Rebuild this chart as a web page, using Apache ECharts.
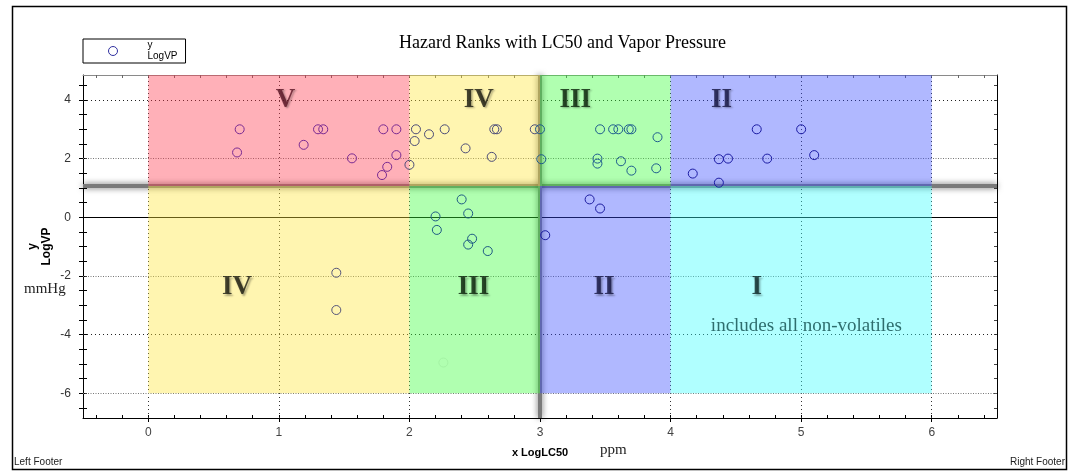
<!DOCTYPE html>
<html><head><meta charset="utf-8">
<script src="https://cdn.jsdelivr.net/npm/echarts@6/dist/echarts.min.js"></script>
<style>html,body{margin:0;padding:0;background:#fff}#c{width:1073px;height:476px}</style>
</head><body><div id="c"></div>
<script>
// ---- data ----
const logLC50 = [0.70,0.68,1.19,1.30,1.34,1.56,1.80,1.90,1.90,1.83,1.79,2.00,2.05,2.04,2.15,2.27,2.43,2.65,2.67,2.63,2.96,3.00,3.01,3.46,3.56,3.60,3.68,3.70,3.90,3.44,3.44,3.62,3.70,3.89,4.66,5.00,4.37,4.44,4.74,5.10,4.17,4.37,2.40,2.20,2.45,2.21,2.48,2.45,2.60,3.04,3.38,3.46,1.44,1.44];
const logVP   = [3.00,2.21,2.47,3.00,3.00,2.01,3.00,3.00,2.12,1.72,1.44,1.79,3.00,2.60,2.83,3.00,2.35,3.00,3.00,2.06,3.00,3.00,1.98,3.00,3.00,3.00,3.00,3.00,2.73,2.00,1.83,1.91,1.59,1.67,3.00,3.00,1.98,2.00,2.00,2.12,1.49,1.18,0.61,0.03,0.13,-0.43,-0.73,-0.93,-1.15,-0.61,0.61,0.30,-1.89,-3.16];
const faintLC50 = [2.26];
const faintVP = [-4.95];

const xTickLabels = [0,1,2,3,4,5,6];
const yTickLabels = [-6,-4,-2,0,2,4];
const xGridValues = [0,1,2,3,4,5,6];
const yGridValues = [-6,-4,-2,2,4];

const rankSplitVP = 1.07;     // horizontal divider
const rankSplitLC50 = 3;      // vertical divider
const bandEdgesLC50 = [0,2,3,4,6];
const bandBottomVP = -6;

const ranksTop = ['V','IV','III','II'];
const ranksTopX = [1.05,2.53,3.27,4.39];
const ranksTopY = 4.0;
const ranksBottom = ['IV','III','II','I'];
const ranksBottomX = [0.68,2.49,3.49,4.66];
const ranksBottomY = -2.39;
const noteText = 'includes all non-volatiles';
const noteX = 5.04, noteY = -3.72;

// ---- layout / style ----
const X_MIN = -0.5, X_MAX = 6.5, Y_MIN = -6.84, Y_MAX = 4.85;
const topColors = ['rgba(255,57,78,0.4)','rgba(255,230,58,0.4)','rgba(58,255,58,0.4)','rgba(58,78,255,0.4)'];
const bottomColors = ['rgba(255,230,58,0.4)','rgba(58,255,58,0.4)','rgba(58,78,255,0.4)','rgba(58,255,255,0.4)'];
const topPointColors = ['#7a2a92','#4c4c78','#1e5c8e','#1c1ca4'];
const bottomPointColors = ['#55557a','#1e5a84','#1c1ca0','#1c5c8c'];
const topLabelColors = ['#5a1424','#1a1a10','#0a200a','#141440'];
const bottomLabelColors = ['#1a1a10','#0a200a','#141440','#0a2626'];
const noteColor = '#0e4a4a';

const xMinor = []; for (let v = -0.4; v < 6.45; v += 0.2) xMinor.push(Math.round(v*10)/10);
const yMinor = []; for (let v = -6.5; v < 4.75; v += 0.5) yMinor.push(v);

function regionIndex(x) {
  for (let i = 0; i < bandEdgesLC50.length-1; i++) if (x >= bandEdgesLC50[i] && x < bandEdgesLC50[i+1]) return i;
  return -1;
}
const points = logLC50.map((x,i)=>{
  const y = logVP[i], r = regionIndex(x);
  const c = r < 0 ? '#1a1a90' : (y >= rankSplitVP ? topPointColors[r] : bottomPointColors[r]);
  return {value:[x, y], itemStyle:{borderColor:c}};
});
const faint = faintLC50.map((x,i)=>[x, faintVP[i]]);

const bands = [];
for (let i = 0; i < bandEdgesLC50.length-1; i++) {
  bands.push([{xAxis: bandEdgesLC50[i], yAxis: rankSplitVP, itemStyle:{color: topColors[i]}}, {xAxis: bandEdgesLC50[i+1], yAxis: Y_MAX}]);
  bands.push([{xAxis: bandEdgesLC50[i], yAxis: bandBottomVP, itemStyle:{color: bottomColors[i]}}, {xAxis: bandEdgesLC50[i+1], yAxis: rankSplitVP}]);
}

const lines = [];
xGridValues.forEach(v => lines.push({xAxis: v, lineStyle:{color:'#333', width:1, type:[1,3]}}));
yGridValues.forEach(v => lines.push({yAxis: v, lineStyle:{color: (v===4||v===-4)?'#222':'#777', width:1, type:(v===4||v===-4)?[1,3]:[1,1.5]}}));
lines.push({yAxis: 0, lineStyle:{color:'#000', width:1, type:'solid'}});
lines.push({yAxis: rankSplitVP, lineStyle:{color:'#7a7a7a', width:4, type:'solid', shadowBlur:6, shadowColor:'rgba(0,0,0,0.6)'}});
lines.push({xAxis: rankSplitLC50, lineStyle:{color:'#7a7a7a', width:4, type:'solid', shadowBlur:6, shadowColor:'rgba(0,0,0,0.6)'}});

const rankLabelStyle = {show:true, position:'inside', formatter:'{b}', fontFamily:'Liberation Serif', fontWeight:'bold', fontSize:27, color:'#000', textShadowColor:'rgba(0,0,0,0.4)', textShadowBlur:2, textShadowOffsetX:1.5, textShadowOffsetY:1.5};
const labelData = [];
ranksTop.forEach((t,i)=>labelData.push({name:t, value:[ranksTopX[i], ranksTopY], label:{color: topLabelColors[i]}}));
ranksBottom.forEach((t,i)=>labelData.push({name:t, value:[ranksBottomX[i], ranksBottomY], label:{color: bottomLabelColors[i]}}));
labelData.push({name: noteText, value:[noteX, noteY], label:{color: noteColor, fontWeight:'normal', fontSize:19, textShadowBlur:0, textShadowOffsetX:0, textShadowOffsetY:0, textShadowColor:'transparent'}});

const axisCommonX = {type:'value', min:X_MIN, max:X_MAX, splitLine:{show:false}};
const axisCommonY = {type:'value', min:Y_MIN, max:Y_MAX, splitLine:{show:false}};
const SANS = 'Liberation Sans';

const chart = echarts.init(document.getElementById('c'), null, {renderer:'canvas'});
chart.setOption({
  animation:false,
  backgroundColor:'#fff',
  title:{text:'Hazard Ranks with LC50 and Vapor Pressure', left:399, top:34, padding:0,
    textStyle:{fontFamily:'Liberation Serif', fontSize:18, fontWeight:'normal', color:'#000'}},
  legend:{left:83, top:39, orient:'vertical', borderColor:'#000', borderWidth:1, padding:[1,8,1,25],
    itemWidth:9, itemHeight:9, selectedMode:false,
    formatter:()=> 'y\nLogVP',
    textStyle:{fontFamily:SANS, fontSize:10, lineHeight:11, color:'#000', padding:[0,0,0,25]},
    data:[{name:'y LogVP', icon:'circle', itemStyle:{color:'transparent', borderColor:'#3030a0', borderWidth:1}}]},
  grid:{left:83, right:76, top:75, bottom:58, containLabel:false},
  xAxis:[
    Object.assign({}, axisCommonX, {position:'bottom', name:'x LogLC50', nameLocation:'middle', nameGap:29, nameMoveOverlap:false,
      nameTextStyle:{fontFamily:SANS, fontWeight:'bold', fontSize:11, color:'#000'},
      axisLine:{onZero:false, lineStyle:{color:'#000', width:1}},
      axisTick:{show:true, inside:false, length:4, customValues:xTickLabels, lineStyle:{color:'#000'}},
      axisLabel:{customValues:xTickLabels, color:'#444', fontFamily:SANS, fontSize:12, margin:9}}),
    Object.assign({}, axisCommonX, {position:'bottom',
      axisLine:{show:false, onZero:false},
      axisTick:{show:true, inside:true, length:3, customValues:xMinor, lineStyle:{color:'#000'}},
      axisLabel:{show:false}}),
    Object.assign({}, axisCommonX, {position:'top',
      axisLine:{show:true, onZero:false, lineStyle:{color:'#8a8a8a'}},
      axisTick:{show:true, inside:true, length:3, customValues:xMinor, lineStyle:{color:'#666'}},
      axisLabel:{show:false}})
  ],
  yAxis:[
    Object.assign({}, axisCommonY, {position:'left', name:'y\nLogVP', nameLocation:'middle', nameGap:29, nameRotate:90, nameMoveOverlap:false,
      nameTextStyle:{fontFamily:SANS, fontWeight:'bold', fontSize:12, lineHeight:14, color:'#000', align:'center'},
      axisLine:{onZero:false, lineStyle:{color:'#000', width:1}},
      axisTick:{show:true, inside:false, length:4, customValues:yMinor, lineStyle:{color:'#000'}},
      axisLabel:{customValues:yTickLabels, color:'#333', fontFamily:SANS, fontSize:12, margin:12}}),
    Object.assign({}, axisCommonY, {position:'left',
      axisLine:{show:false, onZero:false},
      axisTick:{show:true, inside:true, length:4, customValues:yMinor, lineStyle:{color:'#000'}},
      axisLabel:{show:false}}),
    Object.assign({}, axisCommonY, {position:'right',
      axisLine:{show:true, onZero:false, lineStyle:{color:'#000'}},
      axisTick:{show:true, inside:true, length:3, customValues:yMinor, lineStyle:{color:'#444'}},
      axisLabel:{show:false}})
  ],
  series:[
    {name:'y LogVP', type:'scatter', xAxisIndex:0, yAxisIndex:0, z:12, symbol:'circle', symbolSize:9,
      itemStyle:{color:'transparent', borderColor:'#101088', borderWidth:1, opacity:1},
      data:points, silent:true},
    {name:'bands', type:'scatter', xAxisIndex:0, yAxisIndex:0, z:2, data:[], silent:true,
      markLine:{silent:true, z:1, symbol:['none','none'], label:{show:false}, emphasis:{disabled:true}, data:lines},
      markArea:{silent:true, z:10, data:bands}},
    {name:'faint', type:'scatter', xAxisIndex:0, yAxisIndex:0, z:2, symbol:'circle', symbolSize:9,
      itemStyle:{color:'transparent', borderColor:'#e6e6e6', borderWidth:1}, data:faint, silent:true},
    {name:'ranks', type:'scatter', xAxisIndex:0, yAxisIndex:0, z:13, symbolSize:1, silent:true,
      itemStyle:{color:'transparent'}, label:rankLabelStyle, data:labelData}
  ],
  graphic:[
    {type:'rect', shape:{x:12.5, y:6.5, width:1054, height:463}, style:{fill:'none', stroke:'#000', lineWidth:1.5}, z:100},
    {type:'text', left:24, top:282, style:{text:'mmHg', font:'15px "Liberation Serif"', fill:'#222'}},
    {type:'text', left:600, top:443, style:{text:'ppm', font:'15px "Liberation Serif"', fill:'#222'}},
    {type:'text', left:14, top:457, style:{text:'Left Footer', font:'10px "Liberation Sans"', fill:'#222'}},
    {type:'text', right:8, top:457, style:{text:'Right Footer', font:'10px "Liberation Sans"', fill:'#222'}}
  ]
});
</script></body></html>
